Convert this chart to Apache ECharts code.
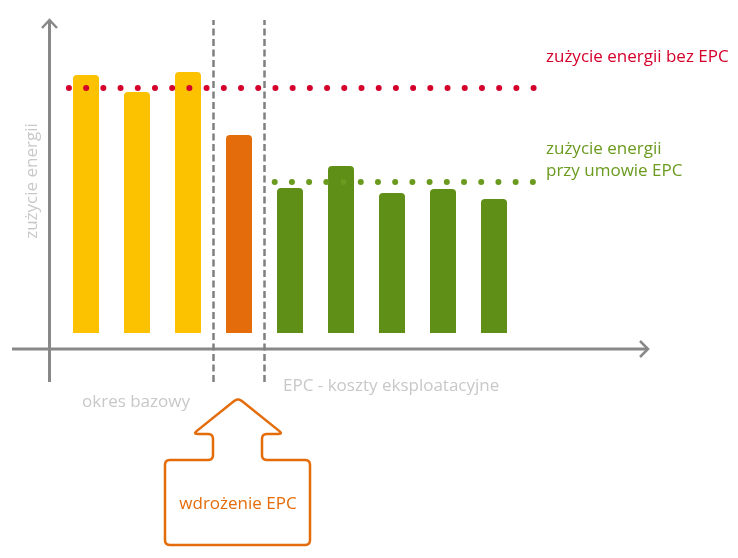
<!DOCTYPE html>
<html><head><meta charset="utf-8">
<script src="https://cdn.jsdelivr.net/npm/echarts@6/dist/echarts.min.js"></script>
<style>html,body{margin:0;padding:0;background:#fff}#c{width:738px;height:558px}</style>
</head><body><div id="c"></div>
<script>
// ---- data ----
const periods = ['okres bazowy 1','okres bazowy 2','okres bazowy 3','wdrożenie EPC','EPC 1','EPC 2','EPC 3','EPC 4','EPC 5'];
const phases = ['base','base','base','impl','epc','epc','epc','epc','epc'];
const energyUse = [86, 80.3, 87, 66, 48.3, 55.7, 46.7, 48, 44.7];
const levelWithoutEPC = 81.7;
const levelWithEPC = 50.3;
const withoutEPCSpan = [0.165, 9.3];   // in period units
const withEPCSpan = [4.2, 9.3];
const phaseDividers = [3, 4];
const dividerRange = [-16.3, 104.3];

// ---- styles ----
const FONT = "'Open Sans', sans-serif";
const phaseColor = { base: '#FCC200', impl: '#E46C0A', epc: '#5F8F16' };
const RED = '#D4002B', GREEN = '#6A9A1E', ORANGE = '#E46C0A', AXIS = '#888888', LIGHT = '#C8C8C8';

function roundedPoly(pts, r) {
  const out = [];
  const n = pts.length;
  for (let i = 0; i < n; i++) {
    const p0 = pts[(i - 1 + n) % n], p = pts[i], p1 = pts[(i + 1) % n];
    const d0 = Math.hypot(p0[0]-p[0], p0[1]-p[1]), d1 = Math.hypot(p1[0]-p[0], p1[1]-p[1]);
    const rr = Math.min(r, d0/2, d1/2);
    const a = [p[0] + (p0[0]-p[0])*rr/d0, p[1] + (p0[1]-p[1])*rr/d0];
    const b = [p[0] + (p1[0]-p[0])*rr/d1, p[1] + (p1[1]-p[1])*rr/d1];
    for (let t = 0; t <= 1.0001; t += 0.2) {
      const u = 1 - t;
      out.push([u*u*a[0] + 2*u*t*p[0] + t*t*b[0], u*u*a[1] + 2*u*t*p[1] + t*t*b[1]]);
    }
  }
  return out;
}

const calloutPts = roundedPoly([
  [238, 398], [283, 434], [262, 434], [262, 460], [310, 460], [310, 545],
  [165, 545], [165, 460], [213, 460], [213, 434], [193, 434]
], 5);

const chart = echarts.init(document.getElementById('c'), null, { renderer: 'canvas' });

const hLine = (span, level, color) => ({
  type: 'line', xAxisIndex: 1, yAxisIndex: 1, clip: false, silent: true,
  showSymbol: false, symbol: 'none', z: 5,
  data: [[span[0], level], [span[1], level]],
  lineStyle: { color: color, width: 6, type: [0.01, 17.2], cap: 'round' }
});

chart.setOption({
  animation: false,
  backgroundColor: '#ffffff',
  grid: [
    { left: 60.5, width: 459, top: 33, bottom: 225, containLabel: false },
    { left: 60.5, width: 510, top: 33, bottom: 225, containLabel: false }
  ],
  xAxis: [
    { type: 'category', data: periods, show: false, boundaryGap: true, gridIndex: 0 },
    { type: 'value', min: 0, max: 10, show: false, gridIndex: 1 }
  ],
  yAxis: [
    { type: 'value', min: 0, max: 100, show: false, gridIndex: 0 },
    { type: 'value', min: 0, max: 100, show: false, gridIndex: 1 }
  ],
  series: [
    {
      type: 'bar', xAxisIndex: 0, yAxisIndex: 0, barWidth: 26, z: 3,
      data: energyUse.map((v, i) => ({ value: v, itemStyle: { color: phaseColor[phases[i]] } })),
      itemStyle: { borderRadius: [4, 4, 0, 0] }
    },
    hLine(withoutEPCSpan, levelWithoutEPC, RED),
    hLine(withEPCSpan, levelWithEPC, GREEN),
    ...phaseDividers.map(d => ({
      type: 'line', xAxisIndex: 1, yAxisIndex: 1, clip: false, silent: true,
      showSymbol: false, symbol: 'none', z: 4,
      data: [[d, dividerRange[0]], [d, dividerRange[1]]],
      lineStyle: { color: '#808080', width: 2.5, type: [7, 3.5] }
    }))
  ],
  graphic: [
    { type: 'polyline', z: 1, shape: { points: [[49.5, 20], [49.5, 382]] }, style: { stroke: AXIS, lineWidth: 3, fill: null } },
    { type: 'polyline', z: 1, shape: { points: [[42, 28], [49.5, 20], [57, 28]] }, style: { stroke: AXIS, lineWidth: 2.5, fill: null } },
    { type: 'polyline', z: 1, shape: { points: [[12, 349], [648, 349]] }, style: { stroke: AXIS, lineWidth: 3, fill: null } },
    { type: 'polyline', z: 1, shape: { points: [[640, 341], [648, 349], [640, 357]] }, style: { stroke: AXIS, lineWidth: 2.5, fill: null } },
    { type: 'text', x: 32, y: 181, rotation: Math.PI / 2, style: { text: 'zużycie energii', fill: LIGHT, font: '17px ' + FONT, align: 'center', verticalAlign: 'middle' } },
    { type: 'text', x: 546, y: 57, style: { text: 'zużycie energii bez EPC', fill: RED, font: '17px ' + FONT, align: 'left', verticalAlign: 'middle' } },
    { type: 'text', x: 546, y: 149, style: { text: 'zużycie energii', fill: GREEN, font: '17px ' + FONT, align: 'left', verticalAlign: 'middle' } },
    { type: 'text', x: 546, y: 171, style: { text: 'przy umowie EPC', fill: GREEN, font: '17px ' + FONT, align: 'left', verticalAlign: 'middle' } },
    { type: 'text', x: 136, y: 402, style: { text: 'okres bazowy', fill: LIGHT, font: '17px ' + FONT, align: 'center', verticalAlign: 'middle' } },
    { type: 'text', x: 283, y: 386, style: { text: 'EPC - koszty eksploatacyjne', fill: LIGHT, font: '17px ' + FONT, align: 'left', verticalAlign: 'middle' } },
    { type: 'polygon', z: 2, shape: { points: calloutPts }, style: { stroke: ORANGE, lineWidth: 2.5, fill: '#ffffff' } },
    { type: 'text', z: 3, x: 238, y: 504, style: { text: 'wdrożenie EPC', fill: ORANGE, font: '17px ' + FONT, align: 'center', verticalAlign: 'middle' } }
  ]
});
</script>
</body></html>
